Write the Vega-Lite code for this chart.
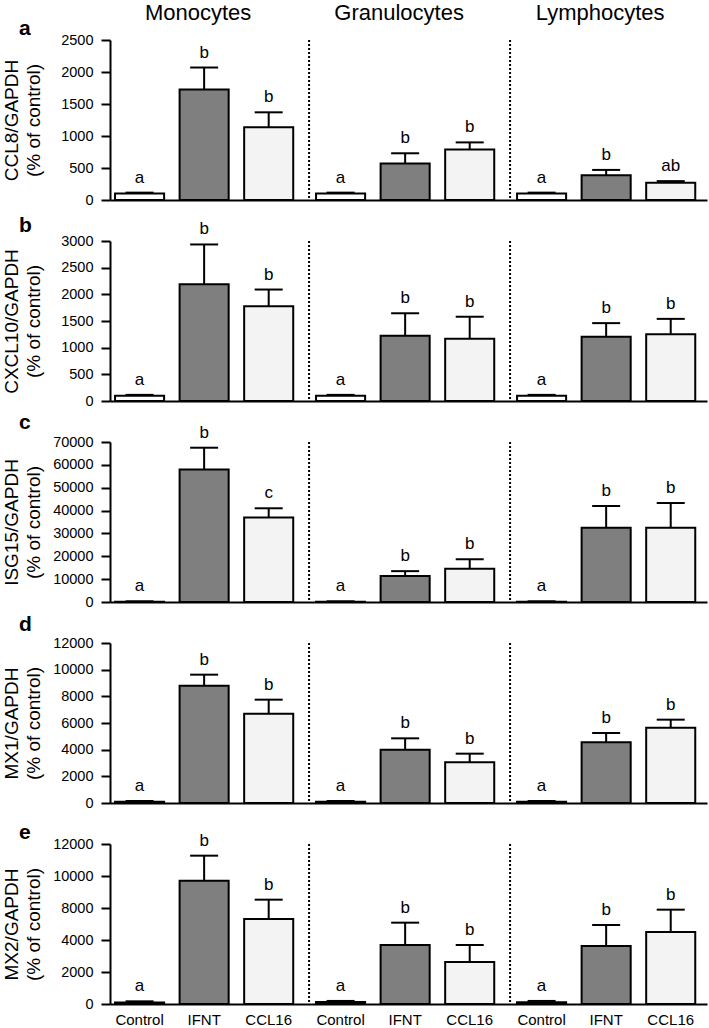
{
  "$schema": "https://vega.github.io/schema/vega-lite/v6.json",
  "padding": {"left": 1, "top": 2, "right": 2, "bottom": 0},
  "background": "white",
  "datasets": {
    "main": [
      {"gene": "CCL8", "group": "Monocytes", "treatment": "Control", "mean": 100, "upper": 115, "letter": "a"},
      {"gene": "CCL8", "group": "Monocytes", "treatment": "IFNT", "mean": 1725, "upper": 2070, "letter": "b"},
      {"gene": "CCL8", "group": "Monocytes", "treatment": "CCL16", "mean": 1135, "upper": 1370, "letter": "b"},
      {"gene": "CCL8", "group": "Granulocytes", "treatment": "Control", "mean": 100, "upper": 115, "letter": "a"},
      {"gene": "CCL8", "group": "Granulocytes", "treatment": "IFNT", "mean": 570, "upper": 730, "letter": "b"},
      {"gene": "CCL8", "group": "Granulocytes", "treatment": "CCL16", "mean": 790, "upper": 900, "letter": "b"},
      {"gene": "CCL8", "group": "Lymphocytes", "treatment": "Control", "mean": 100, "upper": 115, "letter": "a"},
      {"gene": "CCL8", "group": "Lymphocytes", "treatment": "IFNT", "mean": 385, "upper": 470, "letter": "b"},
      {"gene": "CCL8", "group": "Lymphocytes", "treatment": "CCL16", "mean": 270, "upper": 295, "letter": "ab"},

      {"gene": "CXCL10", "group": "Monocytes", "treatment": "Control", "mean": 100, "upper": 115, "letter": "a"},
      {"gene": "CXCL10", "group": "Monocytes", "treatment": "IFNT", "mean": 2190, "upper": 2935, "letter": "b"},
      {"gene": "CXCL10", "group": "Monocytes", "treatment": "CCL16", "mean": 1775, "upper": 2090, "letter": "b"},
      {"gene": "CXCL10", "group": "Granulocytes", "treatment": "Control", "mean": 100, "upper": 115, "letter": "a"},
      {"gene": "CXCL10", "group": "Granulocytes", "treatment": "IFNT", "mean": 1225, "upper": 1645, "letter": "b"},
      {"gene": "CXCL10", "group": "Granulocytes", "treatment": "CCL16", "mean": 1165, "upper": 1580, "letter": "b"},
      {"gene": "CXCL10", "group": "Lymphocytes", "treatment": "Control", "mean": 100, "upper": 115, "letter": "a"},
      {"gene": "CXCL10", "group": "Lymphocytes", "treatment": "IFNT", "mean": 1205, "upper": 1460, "letter": "b"},
      {"gene": "CXCL10", "group": "Lymphocytes", "treatment": "CCL16", "mean": 1250, "upper": 1540, "letter": "b"},

      {"gene": "ISG15", "group": "Monocytes", "treatment": "Control", "mean": 100, "upper": 300, "letter": "a"},
      {"gene": "ISG15", "group": "Monocytes", "treatment": "IFNT", "mean": 58000, "upper": 67500, "letter": "b"},
      {"gene": "ISG15", "group": "Monocytes", "treatment": "CCL16", "mean": 37000, "upper": 41000, "letter": "c"},
      {"gene": "ISG15", "group": "Granulocytes", "treatment": "Control", "mean": 100, "upper": 300, "letter": "a"},
      {"gene": "ISG15", "group": "Granulocytes", "treatment": "IFNT", "mean": 11400, "upper": 13500, "letter": "b"},
      {"gene": "ISG15", "group": "Granulocytes", "treatment": "CCL16", "mean": 14600, "upper": 18700, "letter": "b"},
      {"gene": "ISG15", "group": "Lymphocytes", "treatment": "Control", "mean": 100, "upper": 300, "letter": "a"},
      {"gene": "ISG15", "group": "Lymphocytes", "treatment": "IFNT", "mean": 32500, "upper": 42000, "letter": "b"},
      {"gene": "ISG15", "group": "Lymphocytes", "treatment": "CCL16", "mean": 32500, "upper": 43300, "letter": "b"},

      {"gene": "MX1", "group": "Monocytes", "treatment": "Control", "mean": 100, "upper": 150, "letter": "a"},
      {"gene": "MX1", "group": "Monocytes", "treatment": "IFNT", "mean": 8800, "upper": 9625, "letter": "b"},
      {"gene": "MX1", "group": "Monocytes", "treatment": "CCL16", "mean": 6700, "upper": 7750, "letter": "b"},
      {"gene": "MX1", "group": "Granulocytes", "treatment": "Control", "mean": 100, "upper": 150, "letter": "a"},
      {"gene": "MX1", "group": "Granulocytes", "treatment": "IFNT", "mean": 4000, "upper": 4850, "letter": "b"},
      {"gene": "MX1", "group": "Granulocytes", "treatment": "CCL16", "mean": 3050, "upper": 3700, "letter": "b"},
      {"gene": "MX1", "group": "Lymphocytes", "treatment": "Control", "mean": 100, "upper": 150, "letter": "a"},
      {"gene": "MX1", "group": "Lymphocytes", "treatment": "IFNT", "mean": 4550, "upper": 5250, "letter": "b"},
      {"gene": "MX1", "group": "Lymphocytes", "treatment": "CCL16", "mean": 5650, "upper": 6250, "letter": "b"},

      {"gene": "MX2", "group": "Monocytes", "treatment": "Control", "mean": 120, "upper": 200, "letter": "a"},
      {"gene": "MX2", "group": "Monocytes", "treatment": "IFNT", "mean": 9250, "upper": 11125, "letter": "b"},
      {"gene": "MX2", "group": "Monocytes", "treatment": "CCL16", "mean": 6375, "upper": 7825, "letter": "b"},
      {"gene": "MX2", "group": "Granulocytes", "treatment": "Control", "mean": 150, "upper": 230, "letter": "a"},
      {"gene": "MX2", "group": "Granulocytes", "treatment": "IFNT", "mean": 4425, "upper": 6100, "letter": "b"},
      {"gene": "MX2", "group": "Granulocytes", "treatment": "CCL16", "mean": 3150, "upper": 4425, "letter": "b"},
      {"gene": "MX2", "group": "Lymphocytes", "treatment": "Control", "mean": 130, "upper": 230, "letter": "a"},
      {"gene": "MX2", "group": "Lymphocytes", "treatment": "IFNT", "mean": 4350, "upper": 5925, "letter": "b"},
      {"gene": "MX2", "group": "Lymphocytes", "treatment": "CCL16", "mean": 5400, "upper": 7075, "letter": "b"}
    ]
  },
  "spacing": 41,
  "bounds": "flush",
  "vconcat": [
    {
      "width": 597, "height": 160,
      "title": {"text": "a", "anchor": "start", "frame": "group", "dx": -91, "offset": -54, "baseline": "alphabetic", "fontSize": 21, "fontWeight": "bold", "color": "black"},
      "data": {"name": "main"},
      "transform": [{"filter": "datum.gene == 'CCL8'"}],
      "layer": [
        {
          "mark": {"type": "bar", "stroke": "black", "strokeWidth": 2},
          "encoding": {
            "x": {"field": "group", "type": "nominal", "scale": {"domain": ["Monocytes", "Granulocytes", "Lymphocytes"], "paddingInner": 0.03, "paddingOuter": 0}, "axis": {"labels": false, "ticks": false, "title": null, "domainWidth": 2, "domainColor": "black"}},
            "xOffset": {"field": "treatment", "type": "nominal", "scale": {"domain": ["Control", "IFNT", "CCL16"], "paddingInner": 0.24, "paddingOuter": 0.13, "align": 0.3}},
            "y": {"field": "mean", "type": "quantitative", "scale": {"domain": [0, 2500], "nice": false}, "axis": {"values": [0, 500, 1000, 1500, 2000, 2500], "format": "d", "title": ["CCL8/GAPDH", "(% of control)"]}},
            "fill": {"field": "treatment", "type": "nominal", "scale": {"domain": ["Control", "IFNT", "CCL16"], "range": ["#ffffff", "#7f7f7f", "#f3f3f3"]}, "legend": null}
          }
        },
        {
          "mark": {"type": "rule", "strokeWidth": 2, "color": "black"},
          "encoding": {
            "x": {"field": "group", "type": "nominal", "scale": {"domain": ["Monocytes", "Granulocytes", "Lymphocytes"], "paddingInner": 0.03, "paddingOuter": 0}},
            "xOffset": {"field": "treatment", "type": "nominal", "scale": {"domain": ["Control", "IFNT", "CCL16"], "paddingInner": 0.24, "paddingOuter": 0.13, "align": 0.3}},
            "y": {"field": "mean", "type": "quantitative"},
            "y2": {"field": "upper"}
          }
        },
        {
          "mark": {"type": "tick", "size": 28, "thickness": 2, "color": "black", "opacity": 1},
          "encoding": {
            "x": {"field": "group", "type": "nominal", "scale": {"domain": ["Monocytes", "Granulocytes", "Lymphocytes"], "paddingInner": 0.03, "paddingOuter": 0}},
            "xOffset": {"field": "treatment", "type": "nominal", "scale": {"domain": ["Control", "IFNT", "CCL16"], "paddingInner": 0.24, "paddingOuter": 0.13, "align": 0.3}},
            "y": {"field": "upper", "type": "quantitative"}
          }
        },
        {
          "mark": {"type": "text", "fontSize": 17, "dy": -10, "baseline": "alphabetic", "color": "black"},
          "encoding": {
            "x": {"field": "group", "type": "nominal", "scale": {"domain": ["Monocytes", "Granulocytes", "Lymphocytes"], "paddingInner": 0.03, "paddingOuter": 0}},
            "xOffset": {"field": "treatment", "type": "nominal", "scale": {"domain": ["Control", "IFNT", "CCL16"], "paddingInner": 0.24, "paddingOuter": 0.13, "align": 0.3}},
            "y": {"field": "upper", "type": "quantitative"},
            "text": {"field": "letter"}
          }
        },
        {
          "transform": [{"filter": "datum.treatment == 'Control' && datum.group != 'Monocytes'"}],
          "mark": {"type": "rule", "strokeWidth": 2, "strokeDash": [2, 2], "color": "black"},
          "encoding": {
            "x": {"field": "group", "type": "nominal", "bandPosition": -0.01, "scale": {"domain": ["Monocytes", "Granulocytes", "Lymphocytes"], "paddingInner": 0.03, "paddingOuter": 0}},
            "y": {"datum": 2500},
            "y2": {"datum": 0}
          }
        },
        {
          "transform": [{"filter": "datum.treatment == 'IFNT'"}],
          "mark": {"type": "text", "fontSize": 22, "dy": -20, "dx": -6, "baseline": "alphabetic", "color": "black"},
          "encoding": {
            "x": {"field": "group", "type": "nominal", "scale": {"domain": ["Monocytes", "Granulocytes", "Lymphocytes"], "paddingInner": 0.03, "paddingOuter": 0}},
            "xOffset": {"field": "treatment", "type": "nominal", "scale": {"domain": ["Control", "IFNT", "CCL16"], "paddingInner": 0.24, "paddingOuter": 0.13, "align": 0.3}},
            "y": {"datum": 2500},
            "text": {"field": "group"}
          }
        }
      ]
    },
    {
      "width": 597, "height": 160,
      "title": {"text": "b", "anchor": "start", "frame": "group", "dx": -91, "offset": -33, "baseline": "alphabetic", "fontSize": 21, "fontWeight": "bold", "color": "black"},
      "data": {"name": "main"},
      "transform": [{"filter": "datum.gene == 'CXCL10'"}],
      "layer": [
        {
          "mark": {"type": "bar", "stroke": "black", "strokeWidth": 2},
          "encoding": {
            "x": {"field": "group", "type": "nominal", "scale": {"domain": ["Monocytes", "Granulocytes", "Lymphocytes"], "paddingInner": 0.03, "paddingOuter": 0}, "axis": {"labels": false, "ticks": false, "title": null, "domainWidth": 2, "domainColor": "black"}},
            "xOffset": {"field": "treatment", "type": "nominal", "scale": {"domain": ["Control", "IFNT", "CCL16"], "paddingInner": 0.24, "paddingOuter": 0.13, "align": 0.3}},
            "y": {"field": "mean", "type": "quantitative", "scale": {"domain": [0, 3000], "nice": false}, "axis": {"values": [0, 500, 1000, 1500, 2000, 2500, 3000], "format": "d", "title": ["CXCL10/GAPDH", "(% of control)"]}},
            "fill": {"field": "treatment", "type": "nominal", "scale": {"domain": ["Control", "IFNT", "CCL16"], "range": ["#ffffff", "#7f7f7f", "#f3f3f3"]}, "legend": null}
          }
        },
        {
          "mark": {"type": "rule", "strokeWidth": 2, "color": "black"},
          "encoding": {
            "x": {"field": "group", "type": "nominal", "scale": {"domain": ["Monocytes", "Granulocytes", "Lymphocytes"], "paddingInner": 0.03, "paddingOuter": 0}},
            "xOffset": {"field": "treatment", "type": "nominal", "scale": {"domain": ["Control", "IFNT", "CCL16"], "paddingInner": 0.24, "paddingOuter": 0.13, "align": 0.3}},
            "y": {"field": "mean", "type": "quantitative"},
            "y2": {"field": "upper"}
          }
        },
        {
          "mark": {"type": "tick", "size": 28, "thickness": 2, "color": "black", "opacity": 1},
          "encoding": {
            "x": {"field": "group", "type": "nominal", "scale": {"domain": ["Monocytes", "Granulocytes", "Lymphocytes"], "paddingInner": 0.03, "paddingOuter": 0}},
            "xOffset": {"field": "treatment", "type": "nominal", "scale": {"domain": ["Control", "IFNT", "CCL16"], "paddingInner": 0.24, "paddingOuter": 0.13, "align": 0.3}},
            "y": {"field": "upper", "type": "quantitative"}
          }
        },
        {
          "mark": {"type": "text", "fontSize": 17, "dy": -10, "baseline": "alphabetic", "color": "black"},
          "encoding": {
            "x": {"field": "group", "type": "nominal", "scale": {"domain": ["Monocytes", "Granulocytes", "Lymphocytes"], "paddingInner": 0.03, "paddingOuter": 0}},
            "xOffset": {"field": "treatment", "type": "nominal", "scale": {"domain": ["Control", "IFNT", "CCL16"], "paddingInner": 0.24, "paddingOuter": 0.13, "align": 0.3}},
            "y": {"field": "upper", "type": "quantitative"},
            "text": {"field": "letter"}
          }
        },
        {
          "transform": [{"filter": "datum.treatment == 'Control' && datum.group != 'Monocytes'"}],
          "mark": {"type": "rule", "strokeWidth": 2, "strokeDash": [2, 2], "color": "black"},
          "encoding": {
            "x": {"field": "group", "type": "nominal", "bandPosition": -0.01, "scale": {"domain": ["Monocytes", "Granulocytes", "Lymphocytes"], "paddingInner": 0.03, "paddingOuter": 0}},
            "y": {"datum": 3000},
            "y2": {"datum": 0}
          }
        }
      ]
    },
    {
      "width": 597, "height": 160,
      "title": {"text": "c", "anchor": "start", "frame": "group", "dx": -91, "offset": -26, "baseline": "alphabetic", "fontSize": 21, "fontWeight": "bold", "color": "black"},
      "data": {"name": "main"},
      "transform": [{"filter": "datum.gene == 'ISG15'"}],
      "layer": [
        {
          "mark": {"type": "bar", "stroke": "black", "strokeWidth": 2},
          "encoding": {
            "x": {"field": "group", "type": "nominal", "scale": {"domain": ["Monocytes", "Granulocytes", "Lymphocytes"], "paddingInner": 0.03, "paddingOuter": 0}, "axis": {"labels": false, "ticks": false, "title": null, "domainWidth": 2, "domainColor": "black"}},
            "xOffset": {"field": "treatment", "type": "nominal", "scale": {"domain": ["Control", "IFNT", "CCL16"], "paddingInner": 0.24, "paddingOuter": 0.13, "align": 0.3}},
            "y": {"field": "mean", "type": "quantitative", "scale": {"domain": [0, 70000], "nice": false}, "axis": {"values": [0, 10000, 20000, 30000, 40000, 50000, 60000, 70000], "format": "d", "title": ["ISG15/GAPDH", "(% of control)"]}},
            "fill": {"field": "treatment", "type": "nominal", "scale": {"domain": ["Control", "IFNT", "CCL16"], "range": ["#ffffff", "#7f7f7f", "#f3f3f3"]}, "legend": null}
          }
        },
        {
          "mark": {"type": "rule", "strokeWidth": 2, "color": "black"},
          "encoding": {
            "x": {"field": "group", "type": "nominal", "scale": {"domain": ["Monocytes", "Granulocytes", "Lymphocytes"], "paddingInner": 0.03, "paddingOuter": 0}},
            "xOffset": {"field": "treatment", "type": "nominal", "scale": {"domain": ["Control", "IFNT", "CCL16"], "paddingInner": 0.24, "paddingOuter": 0.13, "align": 0.3}},
            "y": {"field": "mean", "type": "quantitative"},
            "y2": {"field": "upper"}
          }
        },
        {
          "mark": {"type": "tick", "size": 28, "thickness": 2, "color": "black", "opacity": 1},
          "encoding": {
            "x": {"field": "group", "type": "nominal", "scale": {"domain": ["Monocytes", "Granulocytes", "Lymphocytes"], "paddingInner": 0.03, "paddingOuter": 0}},
            "xOffset": {"field": "treatment", "type": "nominal", "scale": {"domain": ["Control", "IFNT", "CCL16"], "paddingInner": 0.24, "paddingOuter": 0.13, "align": 0.3}},
            "y": {"field": "upper", "type": "quantitative"}
          }
        },
        {
          "mark": {"type": "text", "fontSize": 17, "dy": -10, "baseline": "alphabetic", "color": "black"},
          "encoding": {
            "x": {"field": "group", "type": "nominal", "scale": {"domain": ["Monocytes", "Granulocytes", "Lymphocytes"], "paddingInner": 0.03, "paddingOuter": 0}},
            "xOffset": {"field": "treatment", "type": "nominal", "scale": {"domain": ["Control", "IFNT", "CCL16"], "paddingInner": 0.24, "paddingOuter": 0.13, "align": 0.3}},
            "y": {"field": "upper", "type": "quantitative"},
            "text": {"field": "letter"}
          }
        },
        {
          "transform": [{"filter": "datum.treatment == 'Control' && datum.group != 'Monocytes'"}],
          "mark": {"type": "rule", "strokeWidth": 2, "strokeDash": [2, 2], "color": "black"},
          "encoding": {
            "x": {"field": "group", "type": "nominal", "bandPosition": -0.01, "scale": {"domain": ["Monocytes", "Granulocytes", "Lymphocytes"], "paddingInner": 0.03, "paddingOuter": 0}},
            "y": {"datum": 70000},
            "y2": {"datum": 0}
          }
        }
      ]
    },
    {
      "width": 597, "height": 160,
      "title": {"text": "d", "anchor": "start", "frame": "group", "dx": -91, "offset": -17, "baseline": "alphabetic", "fontSize": 21, "fontWeight": "bold", "color": "black"},
      "data": {"name": "main"},
      "transform": [{"filter": "datum.gene == 'MX1'"}],
      "layer": [
        {
          "mark": {"type": "bar", "stroke": "black", "strokeWidth": 2},
          "encoding": {
            "x": {"field": "group", "type": "nominal", "scale": {"domain": ["Monocytes", "Granulocytes", "Lymphocytes"], "paddingInner": 0.03, "paddingOuter": 0}, "axis": {"labels": false, "ticks": false, "title": null, "domainWidth": 2, "domainColor": "black"}},
            "xOffset": {"field": "treatment", "type": "nominal", "scale": {"domain": ["Control", "IFNT", "CCL16"], "paddingInner": 0.24, "paddingOuter": 0.13, "align": 0.3}},
            "y": {"field": "mean", "type": "quantitative", "scale": {"domain": [0, 12000], "nice": false}, "axis": {"values": [0, 2000, 4000, 6000, 8000, 10000, 12000], "format": "d", "title": ["MX1/GAPDH", "(% of control)"]}},
            "fill": {"field": "treatment", "type": "nominal", "scale": {"domain": ["Control", "IFNT", "CCL16"], "range": ["#ffffff", "#7f7f7f", "#f3f3f3"]}, "legend": null}
          }
        },
        {
          "mark": {"type": "rule", "strokeWidth": 2, "color": "black"},
          "encoding": {
            "x": {"field": "group", "type": "nominal", "scale": {"domain": ["Monocytes", "Granulocytes", "Lymphocytes"], "paddingInner": 0.03, "paddingOuter": 0}},
            "xOffset": {"field": "treatment", "type": "nominal", "scale": {"domain": ["Control", "IFNT", "CCL16"], "paddingInner": 0.24, "paddingOuter": 0.13, "align": 0.3}},
            "y": {"field": "mean", "type": "quantitative"},
            "y2": {"field": "upper"}
          }
        },
        {
          "mark": {"type": "tick", "size": 28, "thickness": 2, "color": "black", "opacity": 1},
          "encoding": {
            "x": {"field": "group", "type": "nominal", "scale": {"domain": ["Monocytes", "Granulocytes", "Lymphocytes"], "paddingInner": 0.03, "paddingOuter": 0}},
            "xOffset": {"field": "treatment", "type": "nominal", "scale": {"domain": ["Control", "IFNT", "CCL16"], "paddingInner": 0.24, "paddingOuter": 0.13, "align": 0.3}},
            "y": {"field": "upper", "type": "quantitative"}
          }
        },
        {
          "mark": {"type": "text", "fontSize": 17, "dy": -10, "baseline": "alphabetic", "color": "black"},
          "encoding": {
            "x": {"field": "group", "type": "nominal", "scale": {"domain": ["Monocytes", "Granulocytes", "Lymphocytes"], "paddingInner": 0.03, "paddingOuter": 0}},
            "xOffset": {"field": "treatment", "type": "nominal", "scale": {"domain": ["Control", "IFNT", "CCL16"], "paddingInner": 0.24, "paddingOuter": 0.13, "align": 0.3}},
            "y": {"field": "upper", "type": "quantitative"},
            "text": {"field": "letter"}
          }
        },
        {
          "transform": [{"filter": "datum.treatment == 'Control' && datum.group != 'Monocytes'"}],
          "mark": {"type": "rule", "strokeWidth": 2, "strokeDash": [2, 2], "color": "black"},
          "encoding": {
            "x": {"field": "group", "type": "nominal", "bandPosition": -0.01, "scale": {"domain": ["Monocytes", "Granulocytes", "Lymphocytes"], "paddingInner": 0.03, "paddingOuter": 0}},
            "y": {"datum": 12000},
            "y2": {"datum": 0}
          }
        }
      ]
    },
    {
      "width": 597, "height": 160,
      "title": {"text": "e", "anchor": "start", "frame": "group", "dx": -91, "offset": -28, "baseline": "alphabetic", "fontSize": 21, "fontWeight": "bold", "color": "black"},
      "data": {"name": "main"},
      "transform": [{"filter": "datum.gene == 'MX2'"}],
      "layer": [
        {
          "mark": {"type": "bar", "stroke": "black", "strokeWidth": 2},
          "encoding": {
            "x": {"field": "group", "type": "nominal", "scale": {"domain": ["Monocytes", "Granulocytes", "Lymphocytes"], "paddingInner": 0.03, "paddingOuter": 0}, "axis": {"labels": false, "ticks": false, "title": null, "domainWidth": 2, "domainColor": "black"}},
            "xOffset": {"field": "treatment", "type": "nominal", "scale": {"domain": ["Control", "IFNT", "CCL16"], "paddingInner": 0.24, "paddingOuter": 0.13, "align": 0.3}},
            "y": {"field": "mean", "type": "quantitative", "scale": {"domain": [0, 12000], "nice": false}, "axis": {"values": [0, 2400, 4800, 7200, 9600, 12000], "labelExpr": "datum.value == 0 ? '0' : datum.value == 2400 ? '2000' : datum.value == 4800 ? '4000' : datum.value == 7200 ? '8000' : datum.value == 9600 ? '10000' : '12000'", "title": ["MX2/GAPDH", "(% of control)"]}},
            "fill": {"field": "treatment", "type": "nominal", "scale": {"domain": ["Control", "IFNT", "CCL16"], "range": ["#ffffff", "#7f7f7f", "#f3f3f3"]}, "legend": null}
          }
        },
        {
          "mark": {"type": "rule", "strokeWidth": 2, "color": "black"},
          "encoding": {
            "x": {"field": "group", "type": "nominal", "scale": {"domain": ["Monocytes", "Granulocytes", "Lymphocytes"], "paddingInner": 0.03, "paddingOuter": 0}},
            "xOffset": {"field": "treatment", "type": "nominal", "scale": {"domain": ["Control", "IFNT", "CCL16"], "paddingInner": 0.24, "paddingOuter": 0.13, "align": 0.3}},
            "y": {"field": "mean", "type": "quantitative"},
            "y2": {"field": "upper"}
          }
        },
        {
          "mark": {"type": "tick", "size": 28, "thickness": 2, "color": "black", "opacity": 1},
          "encoding": {
            "x": {"field": "group", "type": "nominal", "scale": {"domain": ["Monocytes", "Granulocytes", "Lymphocytes"], "paddingInner": 0.03, "paddingOuter": 0}},
            "xOffset": {"field": "treatment", "type": "nominal", "scale": {"domain": ["Control", "IFNT", "CCL16"], "paddingInner": 0.24, "paddingOuter": 0.13, "align": 0.3}},
            "y": {"field": "upper", "type": "quantitative"}
          }
        },
        {
          "mark": {"type": "text", "fontSize": 17, "dy": -10, "baseline": "alphabetic", "color": "black"},
          "encoding": {
            "x": {"field": "group", "type": "nominal", "scale": {"domain": ["Monocytes", "Granulocytes", "Lymphocytes"], "paddingInner": 0.03, "paddingOuter": 0}},
            "xOffset": {"field": "treatment", "type": "nominal", "scale": {"domain": ["Control", "IFNT", "CCL16"], "paddingInner": 0.24, "paddingOuter": 0.13, "align": 0.3}},
            "y": {"field": "upper", "type": "quantitative"},
            "text": {"field": "letter"}
          }
        },
        {
          "transform": [{"filter": "datum.treatment == 'Control' && datum.group != 'Monocytes'"}],
          "mark": {"type": "rule", "strokeWidth": 2, "strokeDash": [2, 2], "color": "black"},
          "encoding": {
            "x": {"field": "group", "type": "nominal", "bandPosition": -0.01, "scale": {"domain": ["Monocytes", "Granulocytes", "Lymphocytes"], "paddingInner": 0.03, "paddingOuter": 0}},
            "y": {"datum": 12000},
            "y2": {"datum": 0}
          }
        },
        {
          "mark": {"type": "text", "fontSize": 15, "dy": 21, "baseline": "alphabetic", "color": "black"},
          "encoding": {
            "x": {"field": "group", "type": "nominal", "scale": {"domain": ["Monocytes", "Granulocytes", "Lymphocytes"], "paddingInner": 0.03, "paddingOuter": 0}},
            "xOffset": {"field": "treatment", "type": "nominal", "scale": {"domain": ["Control", "IFNT", "CCL16"], "paddingInner": 0.24, "paddingOuter": 0.13, "align": 0.3}},
            "y": {"datum": 0},
            "text": {"field": "treatment"}
          }
        }
      ]
    }
  ],
  "config": {
    "font": "Liberation Sans",
    "view": {"stroke": null},
    "text": {"font": "Liberation Sans"},
    "title": {"font": "Liberation Sans"},
    "axis": {"labelFont": "Liberation Sans", "titleFont": "Liberation Sans", "labelColor": "black", "titleColor": "black", "domainColor": "black", "tickColor": "black", "domainWidth": 2, "tickWidth": 2, "grid": false},
    "axisY": {"labelFontSize": 14.5, "tickSize": 9, "tickCount": 30, "labelOverlap": false, "labelPadding": 8, "titleFontSize": 19, "titleFontWeight": "normal", "titleX": -108, "titleY": 80, "titleAngle": -90, "titleBaseline": "top", "titleAlign": "center", "titleLineHeight": 22}
  }
}
